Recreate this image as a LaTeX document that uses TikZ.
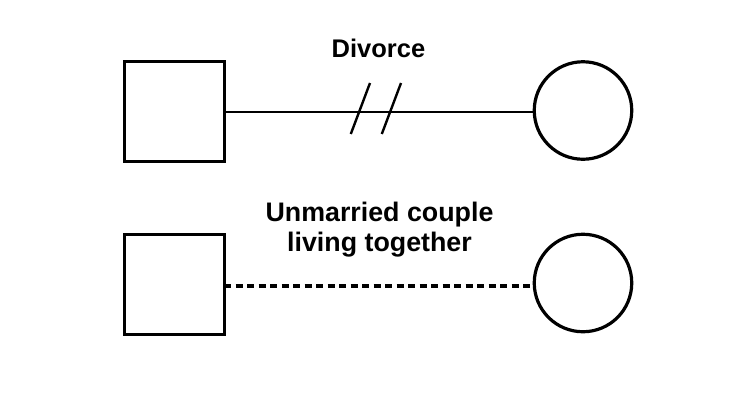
\documentclass[tikz,border=0pt]{standalone}
\usepackage{fontspec}
\setmainfont{Liberation Sans}
\begin{document}
\begin{tikzpicture}[x=1pt,y=-1pt,
  person/.style={draw=black,line width=3.2pt,minimum size=100pt,inner sep=0pt,outer sep=0pt},
  male/.style={person,rectangle},
  female/.style={person,circle,minimum size=97.5pt},
  tie/.style={line width=1.8pt},
  cohab/.style={line width=3.2pt,dash pattern=on 7pt off 4.5pt},
  slash/.style={line width=2.4pt},
  lbl/.style={font=\fontsize{25.5}{30}\selectfont\bfseries,align=center,inner sep=0pt}]
\useasboundingbox (0,0) rectangle (750,400);
% row 1
\node[male] (m1) at (174.2,111.8) {};
\node[female] (f1) at (583,110.5) {};
\draw[tie] (m1.east |- 0,112) coordinate (s1) -- (s1 -| f1.west);
\coordinate (mid) at (360.4,108.5);
\draw[slash] ([shift={(9.6,-25.5)}]mid) -- ([shift={(-9.6,25.5)}]mid);
\draw[slash] ([shift={(40.6,-25.5)}]mid) -- ([shift={(21.4,25.5)}]mid);
\node[lbl,anchor=base] (t1) at (378.5,57.5) {Divorce};
% row 2
\node[male] (m2) at (174.2,284.5) {};
\node[female] (f2) at (583,283) {};
\draw[cohab] (m2.east |- 0,286) coordinate (s2) -- (s2 -| f2.west);
\node[lbl,font=\fontsize{26.8}{30}\selectfont\bfseries,anchor=base] (t2) at (379.5,251) {Unmarried couple\\living together};
\end{tikzpicture}
\end{document}
